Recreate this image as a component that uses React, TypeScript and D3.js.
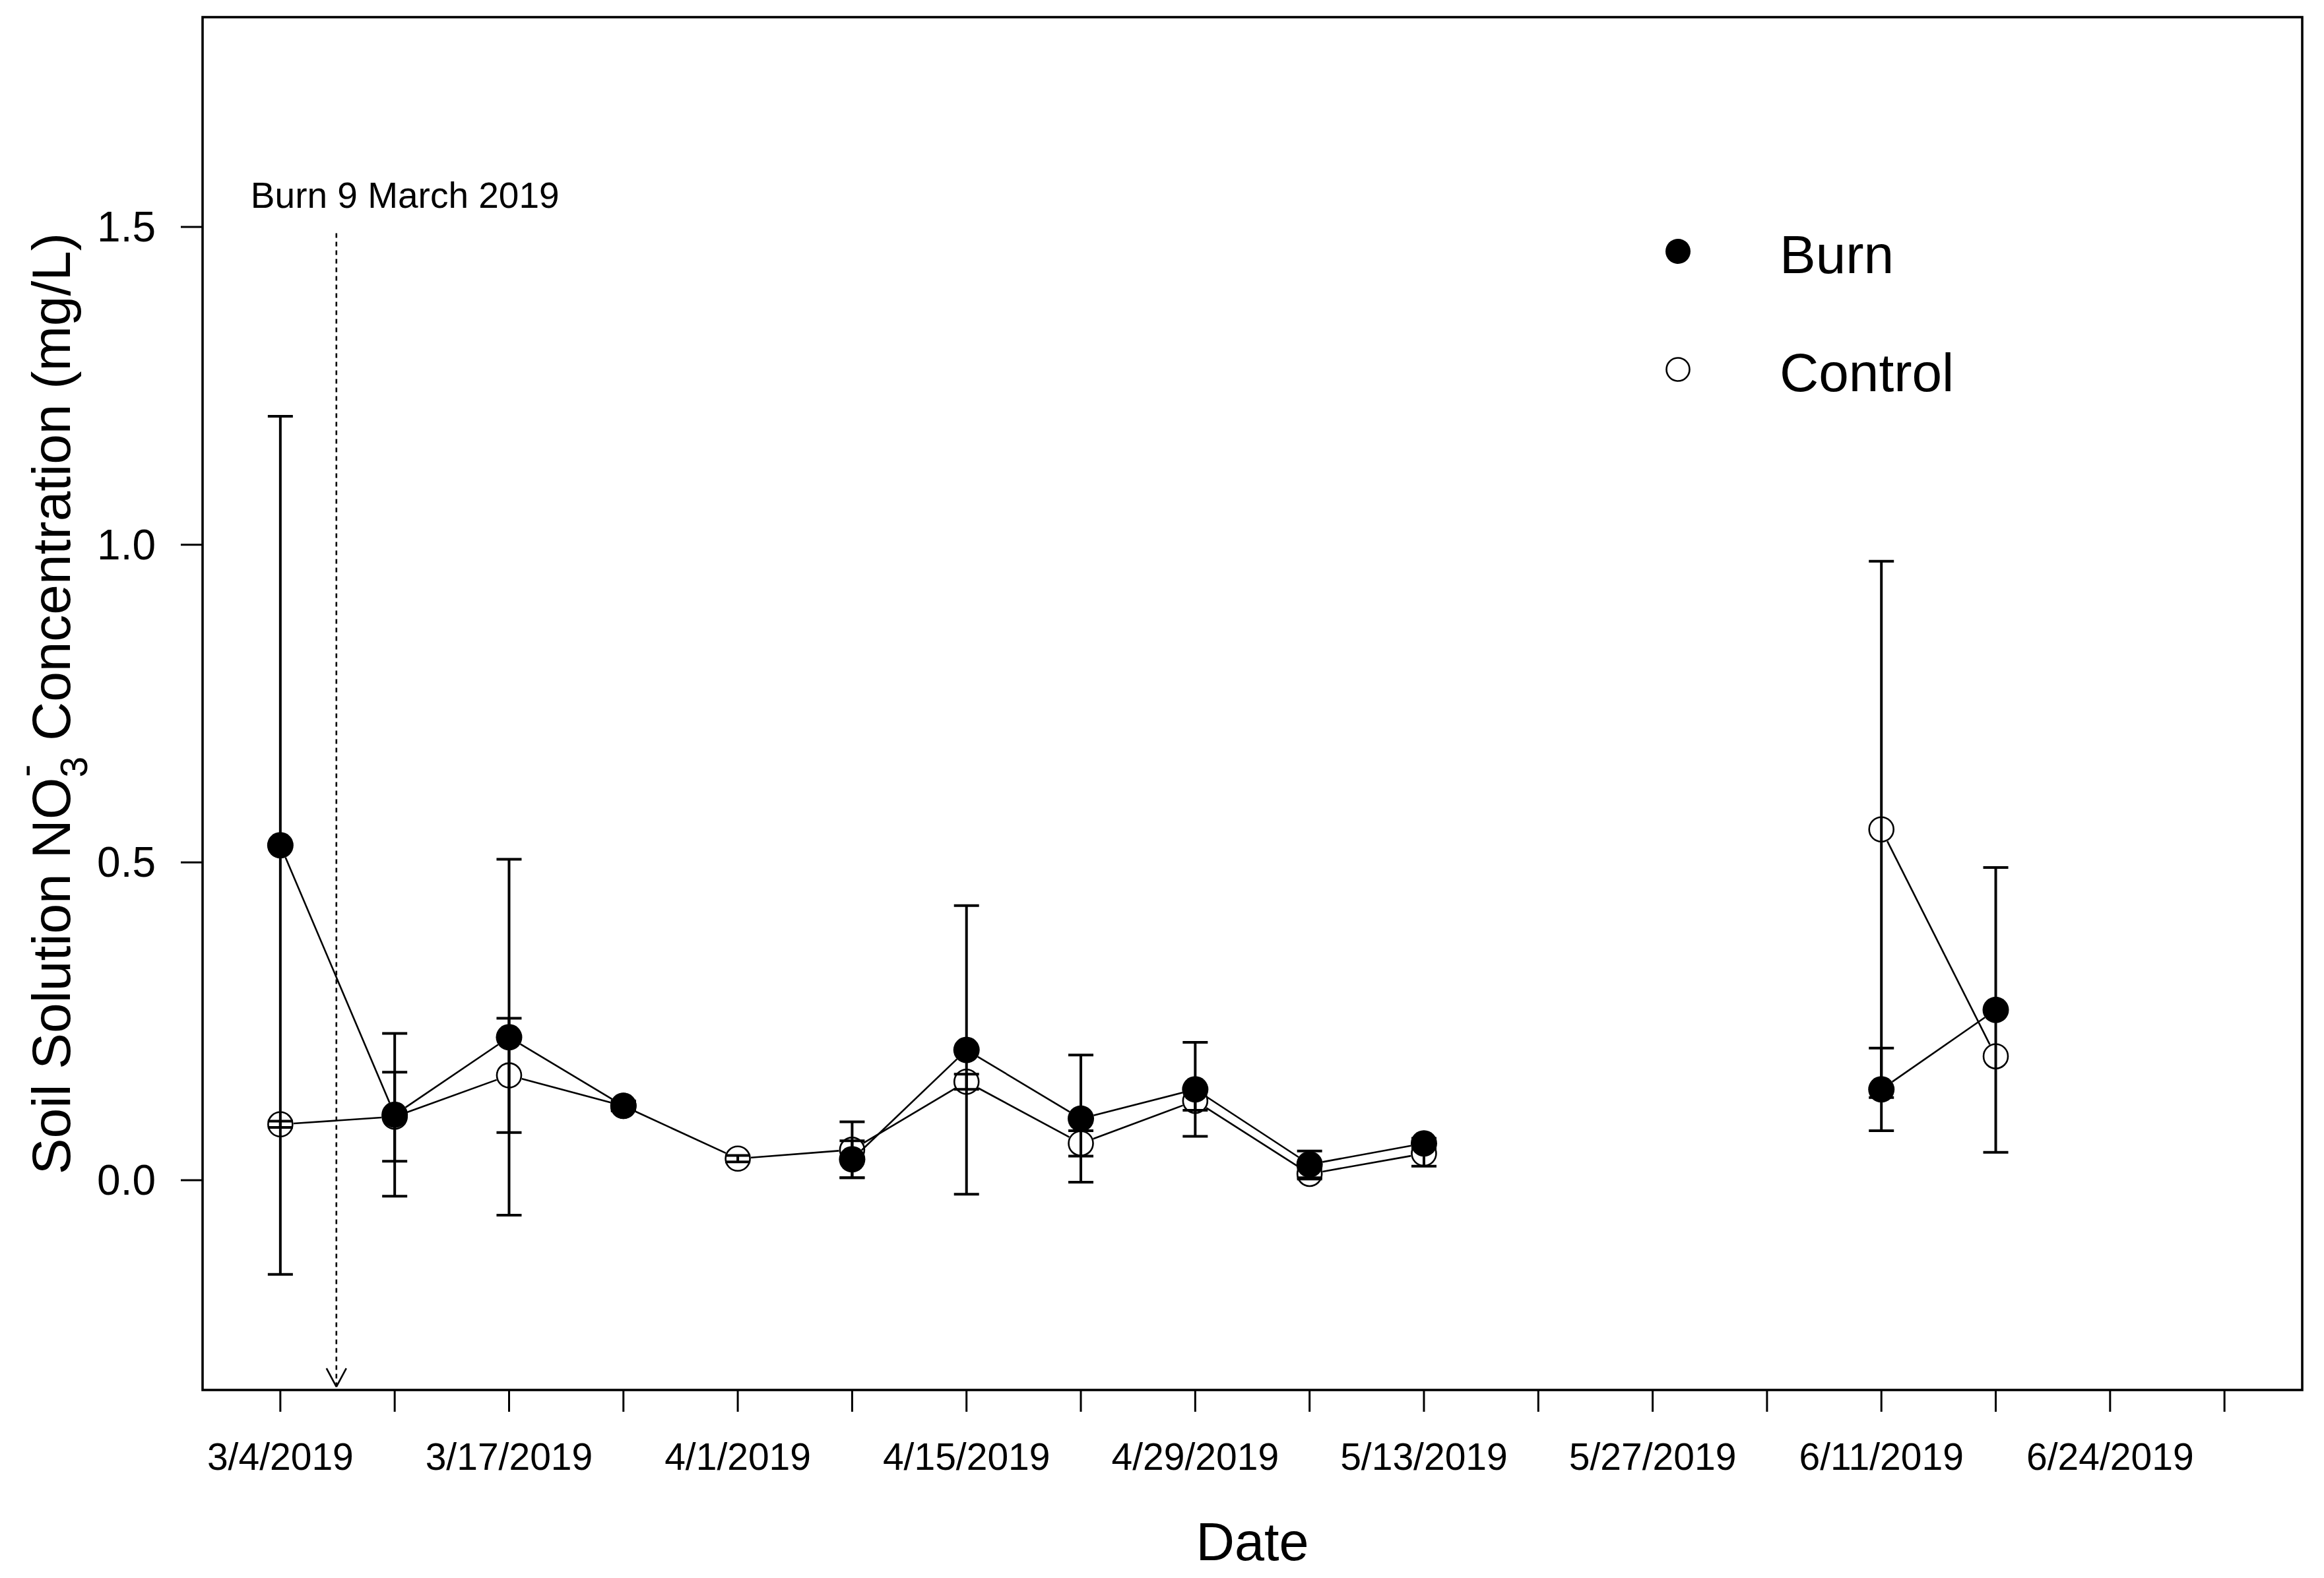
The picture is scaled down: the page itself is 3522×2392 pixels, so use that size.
import React, { useEffect } from "react";
import * as d3 from "d3";

// ---- Data ----
const tickCount = 18; // sampling positions on the x axis (index 0..17)
const tickLabels = ["3/4/2019", "3/17/2019", "4/1/2019", "4/15/2019", "4/29/2019", "5/13/2019", "5/27/2019", "6/11/2019", "6/24/2019"];
const tickLabelIndex = [0, 2, 4, 6, 8, 10, 12, 14, 16];

// values at sample index 0..15 (null = no sample)
const burnMean: (number | null)[] = [0.527, 0.103, 0.225, 0.117, null, 0.033, 0.205, 0.097, 0.143, 0.025, 0.058, null, null, null, 0.143, 0.268];
const burnErr: (number | null)[] = [0.675, 0.128, 0.28, 0.008, null, 0.029, 0.227, 0.1, 0.074, 0.021, 0.008, null, null, null, 0.065, 0.224];
const controlMean: (number | null)[] = [0.088, 0.1, 0.165, 0.117, 0.034, 0.048, 0.155, 0.058, 0.125, 0.01, 0.042, null, null, null, 0.552, 0.195];
const controlErr: (number | null)[] = [0.005, 0.07, 0.09, 0.006, 0.005, 0.044, 0.012, 0.02, 0.015, 0.008, 0.02, null, null, null, 0.422, null];

const yTicks = [0, 0.5, 1.0, 1.5];
const burnEventIndex = 0.49;
const burnEventTop = 1.49;
const burnEventBottom = -0.325;
const burnEventLabel = "Burn 9 March 2019";
const burnEventLabelPos = { index: 1.09, value: 1.55 };

const W = 3522;
const H = 2392;
const FONT = "'Liberation Sans', Arial, Helvetica, sans-serif";

const x = d3.scaleLinear().domain([-0.68, 17.68]).range([307, 3489]);
const y = d3.scaleLinear().domain([-0.33, 1.83]).range([2107, 26]);

const R = 20;

function segments(vals: (number | null)[]) {
  const segs: string[] = [];
  for (let i = 0; i < vals.length - 1; i++) {
    const a = vals[i];
    const b = vals[i + 1];
    if (a == null || b == null) continue;
    const x1 = x(i), y1 = y(a), x2 = x(i + 1), y2 = y(b);
    const dx = x2 - x1, dy = y2 - y1;
    const len = Math.hypot(dx, dy);
    if (len <= 2 * R) continue;
    const ux = dx / len, uy = dy / len;
    const p = d3.path();
    p.moveTo(x1 + ux * R, y1 + uy * R);
    p.lineTo(x2 - ux * R, y2 - uy * R);
    segs.push(p.toString());
  }
  return segs;
}

function ErrorBars({ mean, err }: { mean: (number | null)[]; err: (number | null)[] }) {
  return (
    <g stroke="#000" strokeWidth={4} fill="none">
      {mean.map((m, i) => {
        const e = err[i];
        if (m == null || e == null) return null;
        const cx = x(i);
        const yt = y(m + e);
        const yb = y(m - e);
        return (
          <g key={i}>
            <line x1={cx} x2={cx} y1={yt} y2={yb} />
            <line x1={cx - 19} x2={cx + 19} y1={yt} y2={yt} />
            <line x1={cx - 19} x2={cx + 19} y1={yb} y2={yb} />
          </g>
        );
      })}
    </g>
  );
}

export default function App() {
  useEffect(() => {
    document.body.style.margin = "0";
  }, []);

  const ax = x(burnEventIndex);
  const arrowTipY = y(burnEventBottom);

  return (
    <svg width={W} height={H} viewBox={`0 0 ${W} ${H}`} style={{ display: "block", background: "#fff" }} fontFamily={FONT}>
      <rect x={0} y={0} width={W} height={H} fill="#fff" />

      {/* error bars */}
      <ErrorBars mean={burnMean} err={burnErr} />
      <ErrorBars mean={controlMean} err={controlErr} />

      {/* connecting lines */}
      <g stroke="#000" strokeWidth={2.6} fill="none">
        {segments(burnMean).map((d, i) => (
          <path key={"b" + i} d={d} />
        ))}
        {segments(controlMean).map((d, i) => (
          <path key={"c" + i} d={d} />
        ))}
      </g>

      {/* points */}
      <g>
        {burnMean.map((v, i) => (v == null ? null : <circle key={"bp" + i} cx={x(i)} cy={y(v)} r={R} fill="#000" />))}
        {controlMean.map((v, i) =>
          v == null ? null : <circle key={"cp" + i} cx={x(i)} cy={y(v)} r={R - 1.5} fill="none" stroke="#000" strokeWidth={2.6} />
        )}
      </g>

      {/* burn event */}
      <g stroke="#000" strokeWidth={2.6} strokeDasharray="7,6" fill="none">
        <line x1={ax} x2={ax} y1={y(burnEventTop)} y2={arrowTipY} />
        <line x1={ax - 15} x2={ax} y1={arrowTipY - 28} y2={arrowTipY} strokeDasharray="none" />
        <line x1={ax + 15} x2={ax} y1={arrowTipY - 28} y2={arrowTipY} strokeDasharray="none" />
      </g>
      <text x={x(burnEventLabelPos.index)} y={y(burnEventLabelPos.value)} textAnchor="middle" dominantBaseline="central" fontSize={55}>
        {burnEventLabel}
      </text>

      {/* box */}
      <rect x={307} y={26} width={3489 - 307} height={2107 - 26} fill="none" stroke="#000" strokeWidth={3.6} />

      {/* x axis ticks */}
      <g stroke="#000" strokeWidth={3}>
        {d3.range(tickCount).map((i) => (
          <line key={i} x1={x(i)} x2={x(i)} y1={2107} y2={2140} />
        ))}
      </g>
      <g fontSize={57} textAnchor="middle">
        {tickLabels.map((t, k) => (
          <text key={t} x={x(tickLabelIndex[k])} y={2228}>
            {t}
          </text>
        ))}
      </g>
      <text x={(307 + 3489) / 2} y={2365} textAnchor="middle" fontSize={81}>
        Date
      </text>

      {/* y axis */}
      <g stroke="#000" strokeWidth={3}>
        {yTicks.map((t) => (
          <line key={t} x1={274} x2={307} y1={y(t)} y2={y(t)} />
        ))}
      </g>
      <g fontSize={64} textAnchor="end">
        {yTicks.map((t) => (
          <text key={t} x={236} y={y(t)} dominantBaseline="central">
            {d3.format(".1f")(t)}
          </text>
        ))}
      </g>
      <text transform={`translate(106,${(26 + 2107) / 2}) rotate(-90)`} textAnchor="middle" fontSize={82}>
        <tspan>Soil Solution NO</tspan>
        <tspan fontSize={57} dy={26}>3</tspan>
        <tspan fontSize={57} dx={-31} dy={-74}>-</tspan>
        <tspan dy={48} dx={13}> Concentration (mg/L)</tspan>
      </text>

      {/* legend */}
      <circle cx={2543} cy={381} r={19} fill="#000" />
      <circle cx={2543} cy={560} r={17.5} fill="none" stroke="#000" strokeWidth={2.6} />
      <text x={2697} y={414} fontSize={82}>Burn</text>
      <text x={2697} y={593} fontSize={82}>Control</text>
    </svg>
  );
}
